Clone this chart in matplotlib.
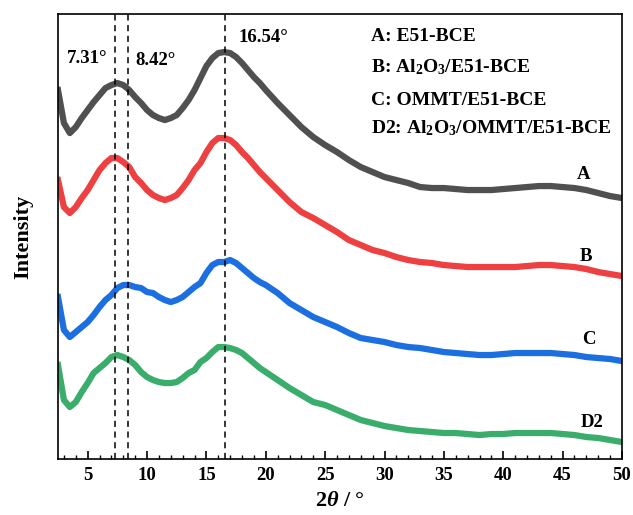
# XRD patterns of the E51-BCE series

import matplotlib
matplotlib.use("Agg")
import matplotlib.pyplot as plt
from matplotlib.ticker import MultipleLocator

plt.rcParams['font.family'] = ['Liberation Serif', 'DejaVu Serif']
plt.rcParams['font.weight'] = 'bold'
plt.rcParams['mathtext.fontset'] = 'custom'
plt.rcParams['mathtext.rm'] = 'Liberation Serif:bold'
plt.rcParams['mathtext.bf'] = 'Liberation Serif:bold'
plt.rcParams['mathtext.it'] = 'Liberation Serif:italic:bold'

# 2theta (deg) and intensity (a.u., curves already offset)
two_theta = [2.5, 3, 3.5, 4, 4.5, 5, 5.5, 6, 6.5, 7, 7.5, 8, 8.5, 9, 9.5, 10,
             10.5, 11, 11.5, 12, 12.5, 13, 13.5, 14, 14.5, 15, 15.5, 16, 16.5,
             17, 17.5, 18, 18.5, 19, 19.5, 20, 21, 22, 23, 24, 25, 26, 27, 28,
             29, 30, 31, 32, 33, 34, 35, 36, 37, 38, 39, 40, 41, 42, 43, 44,
             45, 46, 47, 48, 49, 50]

int_a = [369, 336, 326, 332, 341, 349, 357, 364, 371, 374, 376, 374, 369, 362,
         356, 349, 344, 341, 339, 341, 344, 351, 359, 369, 381, 393, 401, 406,
         407, 406, 402, 396, 389, 382, 376, 369, 356, 344, 332, 322, 314, 307,
         299, 292, 287, 282, 279, 276, 272, 271, 271, 270, 269, 269, 269, 270,
         271, 272, 273, 273, 272, 271, 269, 266, 263, 261]

int_b = [279, 252, 246, 252, 261, 269, 279, 289, 296, 301, 301, 297, 292, 282,
         276, 269, 264, 261, 259, 261, 264, 271, 279, 289, 296, 307, 316, 321,
         321, 319, 314, 307, 301, 294, 287, 281, 269, 257, 247, 241, 234, 227,
         219, 214, 209, 206, 202, 199, 197, 196, 194, 193, 192, 192, 192, 192,
         192, 193, 194, 194, 193, 192, 190, 187, 185, 183]

int_c = [162, 129, 122, 127, 132, 137, 144, 152, 159, 164, 171, 174, 174, 172,
         171, 167, 166, 162, 159, 157, 159, 162, 167, 172, 176, 186, 194, 197,
         197, 199, 196, 191, 186, 181, 177, 174, 166, 156, 149, 142, 137, 132,
         126, 121, 119, 117, 114, 112, 111, 109, 107, 106, 105, 104, 104, 105,
         106, 106, 106, 106, 105, 104, 102, 101, 100, 98]

int_d2 = [94, 59, 52, 57, 67, 76, 86, 91, 96, 102, 104, 102, 99, 94, 87, 82,
          79, 77, 76, 76, 77, 81, 86, 89, 97, 101, 107, 112, 112, 111, 109,
          106, 101, 96, 91, 87, 79, 71, 64, 57, 54, 49, 44, 39, 36, 33, 31, 29,
          28, 27, 26, 26, 25, 24, 25, 25, 26, 26, 26, 26, 25, 24, 22, 21, 19,
          17]

peaks = [7.31, 8.42, 16.54]
legend_lines = ["A: E51-BCE", "B: Al$_2$O$_3$/E51-BCE", "C: OMMT/E51-BCE",
                "D2: Al$_2$O$_3$/OMMT/E51-BCE"]

fig = plt.figure(figsize=(6.33, 5.15), dpi=100)
ax = fig.add_axes([0.0916, 0.1087, 0.891, 0.864])

ax.plot(two_theta, int_a, color='#505050', lw=4.5, solid_joinstyle='round')
ax.plot(two_theta, int_b, color='#ee4040', lw=4.5, solid_joinstyle='round')
ax.plot(two_theta, int_c, color='#1c6fe0', lw=4.5, solid_joinstyle='round')
ax.plot(two_theta, int_d2, color='#3aad6c', lw=4.5, solid_joinstyle='round')

for p in peaks:
    ax.axvline(p, color='black', lw=1.1, ls=(0, (4, 3)))

ax.text(4.95, 401, "7.31°", ha='center', va='center', fontsize=13.5, fontweight='bold')
ax.text(10.68, 399, "8.42°", ha='center', va='center', fontsize=13.5, fontweight='bold')
ax.text(19.8, 422, "16.54°", ha='center', va='center', fontsize=13.5, fontweight='bold')

for txt, y in zip(legend_lines, [423, 392, 359, 331]):
    ax.text(28.9, y, txt, ha='left', va='center', fontsize=14, fontweight='bold')

ax.text(46.77, 285, "A", ha='center', va='center', fontsize=13.5, fontweight='bold')
ax.text(46.94, 203, "B", ha='center', va='center', fontsize=13.5, fontweight='bold')
ax.text(47.2, 120, "C", ha='center', va='center', fontsize=13.5, fontweight='bold')
ax.text(47.5, 37, "D2", ha='center', va='center', fontsize=13.5, fontweight='bold')

ax.set_xlim(2.5, 50)
ax.set_ylim(0, 445)
ax.xaxis.set_major_locator(MultipleLocator(5))
ax.xaxis.set_minor_locator(MultipleLocator(1))
ax.tick_params(axis='x', which='major', direction='in', length=6, width=1.2,
               labelsize=13.5, pad=6, top=False)
ax.tick_params(axis='x', which='minor', direction='in', length=3, width=1.0, top=False)
ax.set_yticks([])
for s in ax.spines.values():
    s.set_linewidth(1.2)

ax.set_xlabel(r"2$\theta$ / °", fontsize=16, fontweight='bold', labelpad=5)
ax.set_ylabel("Intensity", fontsize=16, fontweight='bold', labelpad=18)

fig.savefig("out.png", dpi=100)
